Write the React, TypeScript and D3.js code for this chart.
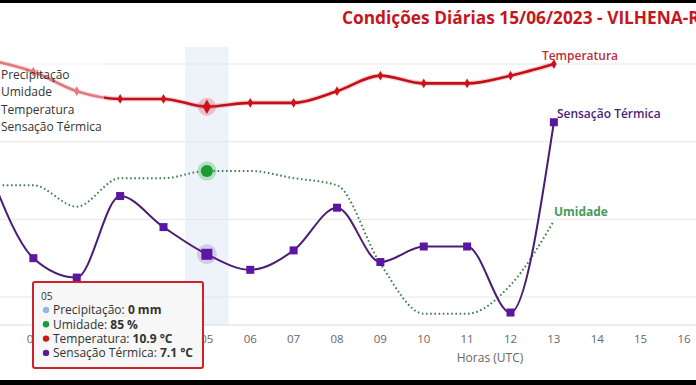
import React from "react";
import * as d3 from "d3";

// valores (hora UTC 00..13)
const horas = [0, 1, 2, 3, 4, 5, 6, 7, 8, 9, 10, 11, 12, 13];
const precipitacao = [0, 0, 0, 0, 0, 0, 0, 0, 0, 0, 0, 0, 0, 0];
const umidade = [83, 83, 80, 84, 84, 85, 85, 84, 83, 72, 65, 65, 69, 78];
const temperatura = [12.1, 11.8, 11.3, 11.1, 11.1, 10.9, 11.0, 11.0, 11.3, 11.7, 11.5, 11.5, 11.7, 12.0];
const sensacao = [9.2, 7.0, 6.5, 8.6, 7.8, 7.1, 6.7, 7.2, 8.3, 6.9, 7.3, 7.3, 5.6, 10.5];
const xTicks = ["01", "02", "03", "04", "05", "06", "07", "08", "09", "10", "11", "12", "13", "14", "15", "16"];
const gridTemps = [6, 8, 10, 12];
const legendItems = ["Precipitação", "Umidade", "Temperatura", "Sensação Térmica"];
const hoverIndex = 5;

const W = 696;
const H = 385;
const FONT = "'Open Sans', 'DejaVu Sans', sans-serif";
const plotTop = 47;
const plotBottom = 325;

const App = () => {
  const x = d3.scaleLinear().domain([0, 16]).range([-10, 684]);
  const step = x(1) - x(0);
  const yT = d3.scaleLinear().domain([6, 12]).range([297, 64]);
  const yH = d3.scaleLinear().domain([85, 100]).range([171, 64]);

  const tempData = horas.map((h, i) => ({ h, v: temperatura[i] }));
  const feelData = horas.map((h, i) => ({ h, v: sensacao[i] }));
  const humData = horas.map((h, i) => ({ h, v: umidade[i] }));

  const lineT = d3
    .line<{ h: number; v: number }>()
    .x((d) => x(d.h))
    .y((d) => yT(d.v))
    .curve(d3.curveMonotoneX);
  const lineH = d3
    .line<{ h: number; v: number }>()
    .x((d) => x(d.h))
    .y((d) => yH(d.v))
    .curve(d3.curveMonotoneX);

  const hx = x(horas[hoverIndex]);
  const last = horas.length - 1;

  const tipRows = [
    { color: "#8fb9e3", name: "Precipitação", val: `${precipitacao[hoverIndex]} mm` },
    { color: "#1e9a3a", name: "Umidade", val: `${umidade[hoverIndex]} %` },
    { color: "#d0161c", name: "Temperatura", val: `${temperatura[hoverIndex].toFixed(1)} °C` },
    { color: "#5b1a9a", name: "Sensação Térmica", val: `${sensacao[hoverIndex].toFixed(1)} °C` },
  ];

  return (
    <svg
      width={W}
      height={H}
      style={{ position: "absolute", left: 0, top: 0, fontFamily: FONT }}
    >
      <rect x={0} y={0} width={W} height={H} fill="#ffffff" />

      {/* crosshair */}
      <rect
        x={hx - step / 2}
        y={plotTop}
        width={step}
        height={plotBottom - plotTop}
        fill="#eef2f9"
      />

      {/* grid */}
      {gridTemps.map((t) => (
        <line key={t} x1={0} x2={W} y1={yT(t)} y2={yT(t)} stroke="#e6e6e6" strokeWidth={1} />
      ))}
      <line x1={0} x2={W} y1={plotBottom} y2={plotBottom} stroke="#dcdcdc" strokeWidth={1} />

      {/* x axis labels */}
      {xTicks.map((t) => (
        <text
          key={t}
          x={x(+t)}
          y={343}
          textAnchor="middle"
          fontSize={11.5}
          fill="#666666"
        >
          {t}
        </text>
      ))}
      <text x={490} y={362} textAnchor="middle" fontSize={12} fill="#666666">
        Horas (UTC)
      </text>

      {/* umidade */}
      <path
        d={lineH(humData) || ""}
        fill="none"
        stroke="#3b8049"
        strokeWidth={2}
        strokeDasharray="1.6,2.6"
      />

      {/* temperatura */}
      <path d={lineT(tempData) || ""} fill="none" stroke="#c8101a" strokeOpacity={0.18} strokeWidth={5} />
      <path d={lineT(tempData) || ""} fill="none" stroke="#c40f18" strokeWidth={2.6} />
      {tempData.map((d, i) => (
        <path
          key={i}
          d={d3.symbol(d3.symbolDiamond, 28)() || ""}
          transform={`translate(${x(d.h)},${yT(d.v)})`}
          fill="#d0101a"
        />
      ))}

      {/* sensação térmica */}
      <path d={lineT(feelData) || ""} fill="none" stroke="#4b1c73" strokeWidth={2} />
      {feelData.map((d, i) => (
        <rect
          key={i}
          x={x(d.h) - 4}
          y={yT(d.v) - 4}
          width={8}
          height={8}
          fill="#5c17a2"
        />
      ))}

      {/* hover markers */}
      <circle cx={hx} cy={yT(temperatura[hoverIndex])} r={9} fill="#e0303a" fillOpacity={0.25} />
      <path
        d={d3.symbol(d3.symbolDiamond, 60)() || ""}
        transform={`translate(${hx},${yT(temperatura[hoverIndex])})`}
        fill="#d0101a"
      />
      <circle cx={hx} cy={yH(umidade[hoverIndex])} r={9.5} fill="#30b050" fillOpacity={0.3} />
      <circle cx={hx} cy={yH(umidade[hoverIndex])} r={6} fill="#1c9a34" />
      <circle cx={hx} cy={yT(sensacao[hoverIndex])} r={10} fill="#7a3cb0" fillOpacity={0.22} />
      <rect
        x={hx - 5.5}
        y={yT(sensacao[hoverIndex]) - 5.5}
        width={11}
        height={11}
        fill="#5c17a2"
      />

      {/* series labels */}
      <text x={x(horas[last]) - 12} y={60} fontSize={12} fontWeight={600} fill="#b8303a">
        Temperatura
      </text>
      <text x={x(horas[last]) + 3} y={118} fontSize={12} fontWeight={600} fill="#4b1f7a">
        Sensação Térmica
      </text>
      <text x={x(horas[last])} y={216} fontSize={12} fontWeight={700} fill="#4a9a5a">
        Umidade
      </text>

      {/* legend */}
      <rect x={-2} y={56} width={106} height={80} fill="#ffffff" fillOpacity={0.45} />
      {legendItems.map((t, i) => (
        <text key={t} x={1} y={79 + i * 17.3} fontSize={12} fill="#333333">
          {t}
        </text>
      ))}

      {/* title */}
      <text x={342} y={24} fontSize={17.3} fontWeight={700} fill="#c5161d">
        Condições Diárias 15/06/2023 - VILHENA-RO
      </text>

      {/* tooltip */}
      <g transform="translate(33,282)">
        <rect
          x={0}
          y={0}
          width={170}
          height={86}
          rx={2}
          fill="#f7f7f7"
          fillOpacity={0.95}
          stroke="#d0202a"
          strokeWidth={2}
        />
        <text x={8} y={18} fontSize={10} fill="#333333">
          {xTicks[hoverIndex - 1]}
        </text>
        {tipRows.map((r, i) => (
          <g key={r.name} transform={`translate(0,${28 + i * 14.3})`}>
            <circle cx={13} cy={0} r={3.2} fill={r.color} />
            <text x={20} y={4.3} fontSize={12} fill="#333333">
              {r.name}: <tspan fontWeight={700}>{r.val}</tspan>
            </text>
          </g>
        ))}
      </g>

      {/* black bands of the screenshot */}
      <rect x={0} y={0} width={W} height={3} fill="#000000" />
      <rect x={0} y={380} width={W} height={5} fill="#000000" />
    </svg>
  );
};

export default App;
